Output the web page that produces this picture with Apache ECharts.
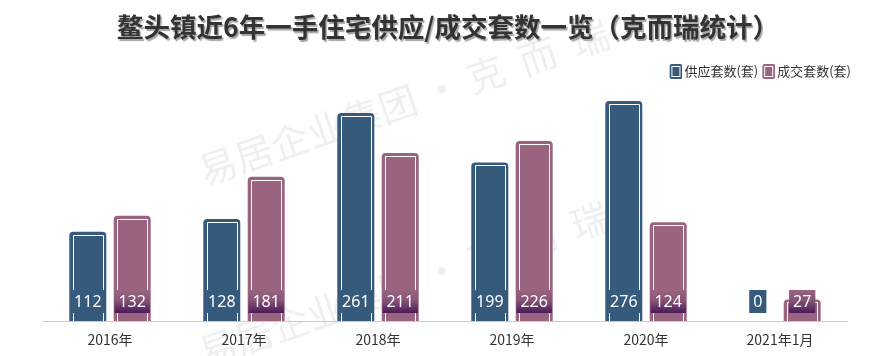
<!DOCTYPE html>
<html>
<head>
<meta charset="utf-8">
<script src="https://cdn.jsdelivr.net/npm/echarts@6/dist/echarts.min.js"></script>
<style>
html,body{margin:0;padding:0;background:#fff;}
#chart{width:876px;height:356px;}
</style>
</head>
<body>
<div id="chart"></div>
<script>
var categories = ['2016年', '2017年', '2018年', '2019年', '2020年', '2021年1月'];
var supplyValues = [112, 128, 261, 199, 276, 0];
var dealValues = [132, 181, 211, 226, 124, 27];
var seriesNames = ['供应套数(套)', '成交套数(套)'];
var titleText = '鳌头镇近6年一手住宅供应/成交套数一览（克而瑞统计）';
var watermarkText = '易居企业集团 · 克  而  瑞';

var supplyColor = '#365a7c';
var dealColor = '#9a6480';
var dealLabelBg = {
  type: 'linear', x: 0, y: 0, x2: 0, y2: 1,
  colorStops: [
    { offset: 0, color: '#9a6480' },
    { offset: 0.45, color: '#875478' },
    { offset: 1, color: '#4a1a5a' }
  ]
};

function legendIcon(color) {
  var svg = '<svg xmlns="http://www.w3.org/2000/svg" width="13" height="15" viewBox="0 0 13 15">' +
    '<rect x="0" y="0" width="13" height="15" rx="2.5" fill="' + color + '"/>' +
    '<rect x="2.5" y="2.5" width="8" height="10" fill="none" stroke="#ffffff" stroke-width="1"/></svg>';
  return 'image://data:image/svg+xml;charset=utf-8,' + encodeURIComponent(svg);
}

var chart = echarts.init(document.getElementById('chart'), null, { renderer: 'canvas' });

function outlineSeries(name, values, labelBg, idx) {
  return {
    name: name,
    type: 'custom',
    z: 3,
    silent: true,
    data: values.map(function (v, i) { return [i, v]; }),
    encode: { x: 0, y: 1 },
    renderItem: function (params, api) {
      var layout = api.barLayout({ barWidth: 37, barGap: '20%', count: 2 });
      var base = api.coord([api.value(0), 0]);
      var top = api.coord([api.value(0), api.value(1)]);
      var cx = base[0] + layout[idx].offsetCenter;
      var baseY = base[1];
      var topY = top[1];
      var children = [];
      if (api.value(1) > 0) {
        var x0 = Math.round(cx - 15) + 0.5;
        var y0 = Math.round(topY + 3) + 0.5;
        children.push({
          type: 'rect',
          shape: { x: x0, y: y0, width: 30, height: baseY + 4 - y0 },
          style: { fill: null, stroke: '#ffffff', lineWidth: 1 }
        });
      }
      children.push({
        type: 'text',
        x: cx,
        y: baseY - 8,
        style: {
          text: String(api.value(1)),
          fill: '#fff',
          font: '16px "Noto Sans"',
          align: 'center',
          verticalAlign: 'bottom',
          lineHeight: 18,
          padding: [3, 4, 2, 4],
          backgroundColor: labelBg
        }
      });
      return { type: 'group', children: children };
    }
  };
}

var wmStyle = { fill: 'rgba(110,110,110,0.11)', font: '38px "Noto Sans CJK SC"', textVerticalAlign: 'middle' };

var option = {
  backgroundColor: '#fff',
  animation: false,
  title: {
    text: titleText,
    left: 448,
    top: 14,
    padding: 0,
    textAlign: 'center',
    textStyle: {
      fontFamily: 'Noto Sans CJK SC',
      fontSize: 26.5,
      fontWeight: 'bold',
      color: '#333',
      textShadowColor: 'rgba(0,0,0,0.35)',
      textShadowOffsetX: 1.5,
      textShadowOffsetY: 1.5,
      textShadowBlur: 1
    }
  },
  legend: {
    data: [
      { name: seriesNames[0], icon: legendIcon(supplyColor) },
      { name: seriesNames[1], icon: legendIcon(dealColor) }
    ],
    right: 20,
    top: 59,
    itemWidth: 13,
    itemHeight: 15,
    itemGap: 4,
    textStyle: { fontFamily: 'Noto Sans CJK SC', fontSize: 13, color: '#333', padding: [0, 0, 0, -3] }
  },
  graphic: [
    { type: 'text', x: 200, y: 172, rotation: 0.33, z: 0, silent: true, style: Object.assign({ text: watermarkText }, wmStyle) },
    { type: 'text', x: 200, y: 354, rotation: 0.33, z: 0, silent: true, style: Object.assign({ text: watermarkText }, wmStyle) }
  ],
  grid: { left: 43, right: 29, top: 82, bottom: 35 },
  xAxis: {
    type: 'category',
    data: categories,
    z: 10,
    axisLine: { lineStyle: { color: '#cccccc', width: 1 } },
    axisTick: { show: false },
    axisLabel: { color: '#333', fontSize: 14, margin: 12, fontFamily: 'Noto Sans CJK SC' }
  },
  yAxis: {
    type: 'value',
    min: 0,
    max: 300,
    show: false,
    splitLine: { show: false }
  },
  series: [
    {
      name: seriesNames[0],
      type: 'bar',
      data: supplyValues,
      barWidth: 37,
      barGap: '20%',
      z: 2,
      itemStyle: { color: supplyColor, borderRadius: [4, 4, 0, 0] }
    },
    {
      name: seriesNames[1],
      type: 'bar',
      data: dealValues,
      barWidth: 37,
      barGap: '20%',
      z: 2,
      itemStyle: { color: dealColor, borderRadius: [4, 4, 0, 0] }
    },
    outlineSeries('supplyOutline', supplyValues, supplyColor, 0),
    outlineSeries('dealOutline', dealValues, dealLabelBg, 1)
  ]
};
chart.setOption(option);
</script>
</body>
</html>
